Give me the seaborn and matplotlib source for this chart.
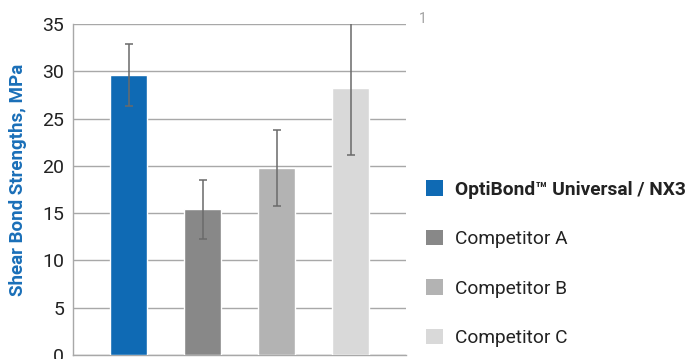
import matplotlib
matplotlib.use("Agg")
import matplotlib.pyplot as plt
import seaborn as sns
import pandas as pd

categories = ["OptiBond™ Universal / NX3", "Competitor A", "Competitor B", "Competitor C"]
values = [29.6, 15.4, 19.8, 28.2]
errors = [3.3, 3.1, 4.0, 7.1]
colors = ["#0f6ab4", "#888888", "#b3b3b3", "#d9d9d9"]
yticks = [0, 5, 10, 15, 20, 25, 30, 35]
ylabel = "Shear Bond Strengths, MPa"

sns.set_theme(style="white")
plt.rcParams['font.family'] = ['Roboto', 'DejaVu Sans']

df = pd.DataFrame({"cat": categories, "val": values})

fig = plt.figure(figsize=(6.89, 3.59), dpi=100)
ax = fig.add_axes([73/689, 1-355/359, (406-73)/689, (355-24)/359])

sns.barplot(data=df, x="cat", y="val", hue="cat", palette=colors, order=categories,
            hue_order=categories, width=0.5, dodge=False, legend=False, ax=ax,
            saturation=1, errorbar=None, zorder=3)
ax.errorbar(range(len(values)), values, yerr=errors, fmt="none", ecolor="#6a6a6a",
            elinewidth=1.1, capsize=3, capthick=1.1, zorder=4)

ax.set_xlim(-0.75, 3.75)
ax.set_ylim(0, 35)
ax.set_yticks(yticks)
ax.set_yticklabels([str(t) for t in yticks], fontsize=14, color="#222222")
ax.set_xticks([])
ax.set_xlabel("")
ax.set_ylabel(ylabel, fontsize=13.5, fontweight="bold", color="#1a6fb8")
ax.yaxis.set_label_coords(-0.137, 0.53)
ax.yaxis.grid(True, color="#a8a8a8", linewidth=1.0, zorder=0)
ax.set_axisbelow(True)
for s in ["top", "right"]:
    ax.spines[s].set_visible(False)
ax.spines["left"].set_color("#a8a8a8")
ax.spines["bottom"].set_color("#a8a8a8")
ax.spines["left"].set_linewidth(1.0)
ax.spines["bottom"].set_linewidth(1.0)
ax.tick_params(axis="y", length=0, pad=6.5)

fig.text(419/689, 1-19/359, "1", fontsize=10, color="#a0a0a0", va="center", ha="left")

from matplotlib.patches import Patch
handles = [Patch(facecolor=c, edgecolor="none") for c in colors]
leg = fig.legend(handles, categories, loc="upper left", bbox_to_anchor=(426/689, 1-180/359),
                 frameon=False, fontsize=13.8, handlelength=0.89, handleheight=0.89,
                 handletextpad=0.63, labelspacing=1.62, borderaxespad=0, borderpad=0)
for i, t in enumerate(leg.get_texts()):
    t.set_color("#222222")
    if i == 0:
        t.set_fontweight("bold")

fig.savefig("out.png", dpi=100)
